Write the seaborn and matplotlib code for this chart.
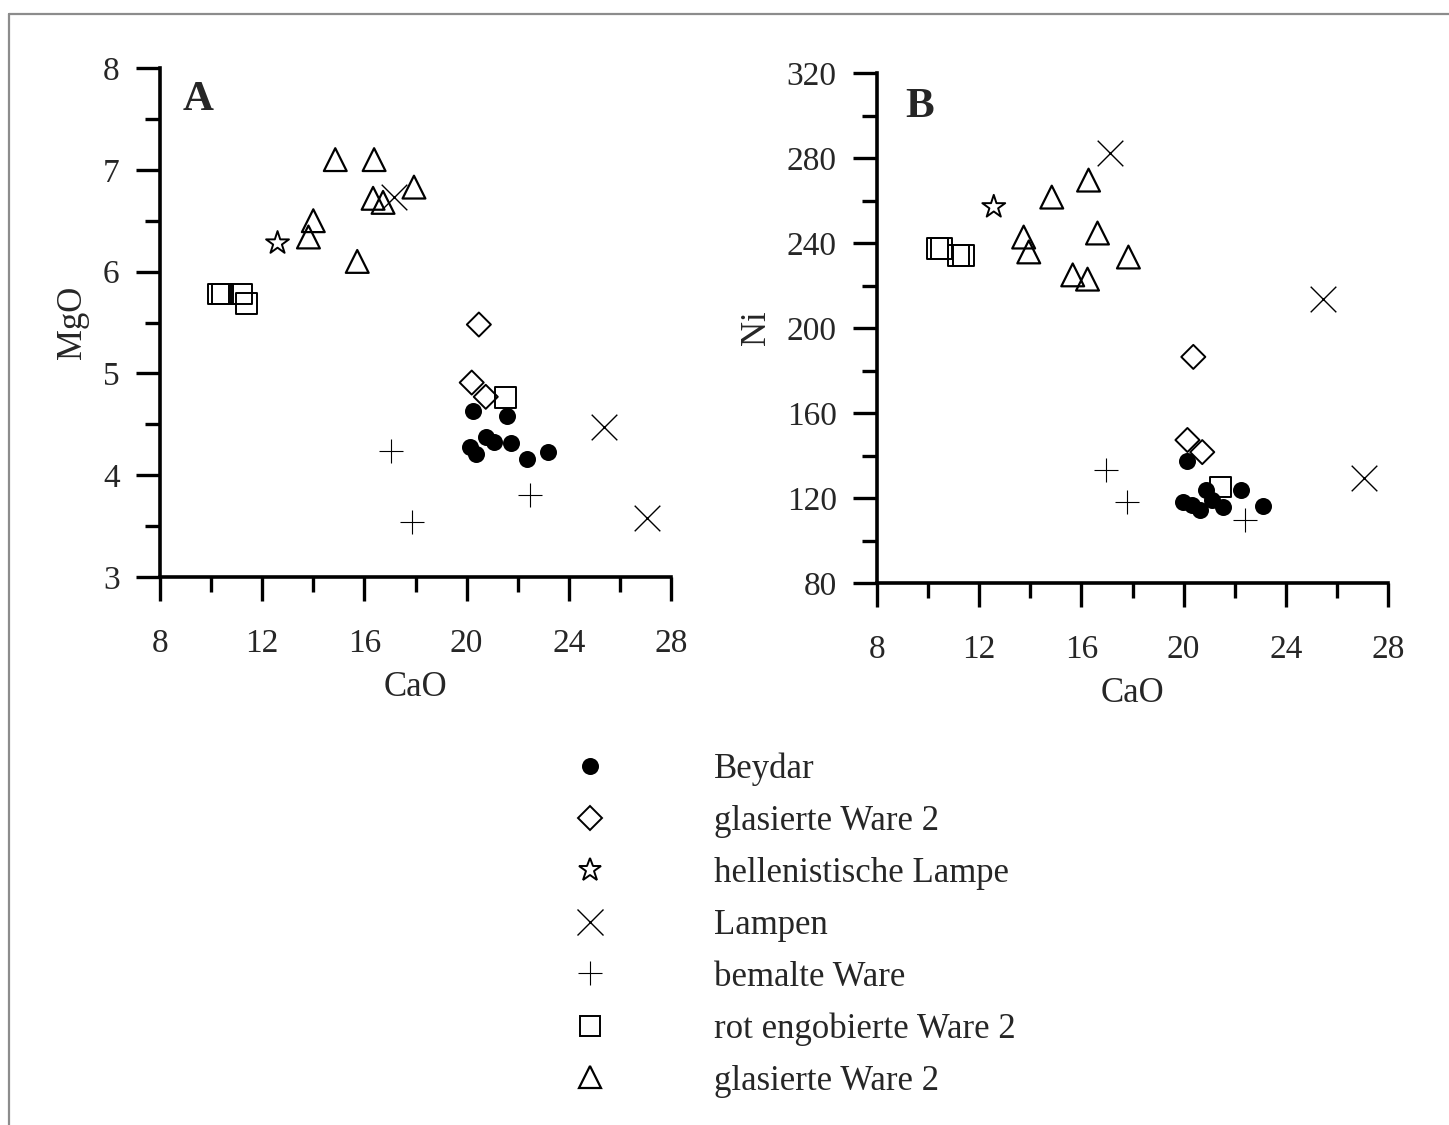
import numpy as np
import pandas as pd
import matplotlib
matplotlib.use("Agg")
import matplotlib.pyplot as plt
from matplotlib.lines import Line2D
import seaborn as sns

sns.set_theme(style="white")
plt.rcParams['font.family'] = ['Liberation Serif', 'DejaVu Serif']

# ---------------- data (panel A: CaO vs MgO) ----------------
beydar_cao_A = [20.24, 21.57, 20.12, 20.36, 20.75, 21.06, 21.72, 22.35, 23.20]
beydar_mgo_A = [4.63, 4.58, 4.28, 4.21, 4.38, 4.33, 4.32, 4.16, 4.23]
glas_d_cao_A = [20.48, 20.20, 20.75]
glas_d_mgo_A = [5.48, 4.91, 4.77]
hell_cao_A = [12.60]
hell_mgo_A = [6.28]
lamp_cao_A = [17.16, 25.39, 27.06]
lamp_mgo_A = [6.73, 4.47, 3.58]
bem_cao_A = [17.04, 17.86, 22.50]
bem_mgo_A = [4.24, 3.54, 3.81]
rot_cao_A = [10.30, 10.45, 11.20, 11.40, 21.53]
rot_mgo_A = [5.78, 5.78, 5.78, 5.69, 4.76]
glas_t_cao_A = [14.86, 16.38, 17.94, 16.34, 16.73, 14.00, 13.81, 15.72]
glas_t_mgo_A = [7.10, 7.10, 6.83, 6.72, 6.68, 6.50, 6.34, 6.10]

# ---------------- data (panel B: CaO vs Ni) ----------------
beydar_cao_B = [20.15, 19.99, 20.34, 20.66, 20.89, 21.13, 21.55, 22.26, 23.12]
beydar_ni_B = [137.4, 118.1, 116.7, 114.4, 123.8, 119.1, 115.8, 123.8, 116.2]
glas_d_cao_B = [20.38, 20.15, 20.73]
glas_d_ni_B = [186.4, 147.3, 141.6]
hell_cao_B = [12.57]
hell_ni_B = [257.0]
lamp_cao_B = [17.10, 25.46, 27.06]
lamp_ni_B = [282.4, 213.6, 129.4]
bem_cao_B = [16.98, 17.80, 22.40]
bem_ni_B = [133.2, 118.1, 109.6]
rot_cao_B = [10.38, 10.54, 11.20, 11.40, 21.44]
rot_ni_B = [237.6, 237.6, 234.0, 234.0, 125.2]
glas_t_cao_B = [16.28, 14.84, 13.74, 13.94, 16.63, 17.84, 15.66, 16.24]
glas_t_ni_B = [269.6, 261.6, 242.8, 235.8, 244.7, 233.4, 225.0, 223.0]

legend_labels = ["Beydar", "glasierte Ware 2", "hellenistische Lampe", "Lampen",
                 "bemalte Ware", "rot engobierte Ware 2", "glasierte Ware 2"]

# marker styles per group: (marker, size s, filled, linewidth)
styles = [
    ("o", 150, "filled", 0.0),
    ("D", 150, "hollow", 1.4),
    ("*", 300, "hollow", 1.4),
    ("x", 340, "line", 1.0),
    ("+", 300, "line", 0.8),
    ("s", 225, "hollow", 1.4),
    ("^", 270, "hollow", 1.6),
]

panelA = [(beydar_cao_A, beydar_mgo_A), (glas_d_cao_A, glas_d_mgo_A), (hell_cao_A, hell_mgo_A),
          (lamp_cao_A, lamp_mgo_A), (bem_cao_A, bem_mgo_A), (rot_cao_A, rot_mgo_A),
          (glas_t_cao_A, glas_t_mgo_A)]
panelB = [(beydar_cao_B, beydar_ni_B), (glas_d_cao_B, glas_d_ni_B), (hell_cao_B, hell_ni_B),
          (lamp_cao_B, lamp_ni_B), (bem_cao_B, bem_ni_B), (rot_cao_B, rot_ni_B),
          (glas_t_cao_B, glas_t_ni_B)]

W, H = 1449, 1125
fig = plt.figure(figsize=(W / 100, H / 100), dpi=100)
fig.patch.set_facecolor("white")

def fx(px):
    return px / W

def fy(py):
    return 1 - py / H

axA = fig.add_axes([fx(160), fy(577), fx(671) - fx(160), fy(68) - fy(577)])
axB = fig.add_axes([fx(877), fy(583), fx(1388) - fx(877), fy(73) - fy(583)])


def draw(ax, groups):
    for (x, y), (m, s, kind, lw) in zip(groups, styles):
        if kind == "filled":
            sns.scatterplot(x=x, y=y, ax=ax, marker=m, s=s, color="black",
                            edgecolor="black", linewidth=0, zorder=3)
        elif kind == "hollow":
            sns.scatterplot(x=x, y=y, ax=ax, marker=m, s=s, facecolors="none",
                            edgecolor="black", linewidth=lw, zorder=3)
        else:
            sns.scatterplot(x=x, y=y, ax=ax, marker=m, s=s, color="black",
                            linewidth=lw, zorder=3)


def style_axes(ax, xlim, ylim, yt_major, yt_minor, ylabel, letter, lpos):
    ax.set_xlim(*xlim)
    ax.set_ylim(*ylim)
    ax.set_facecolor("white")
    for sp in ["top", "right"]:
        ax.spines[sp].set_visible(False)
    for sp in ["left", "bottom"]:
        ax.spines[sp].set_visible(True)
        ax.spines[sp].set_linewidth(2.6)
        ax.spines[sp].set_color("black")
    ax.set_xticks(np.arange(8, 29, 4))
    ax.set_xticks(np.arange(10, 29, 4), minor=True)
    ax.set_yticks(yt_major)
    ax.set_yticks(yt_minor, minor=True)
    ax.tick_params(axis="both", which="major", direction="out", length=17, width=2.4,
                   color="black", labelsize=24, left=True, bottom=True)
    ax.tick_params(axis="x", which="major", pad=20)
    ax.tick_params(axis="y", which="major", pad=12)
    ax.tick_params(axis="both", which="minor", direction="out", length=11, width=2.4,
                   color="black", left=True, bottom=True)
    ax.set_xlabel("CaO", fontsize=25, labelpad=9)
    ax.set_ylabel(ylabel, fontsize=25, labelpad=10)
    ax.grid(False)
    ax.text(lpos[0], lpos[1], letter, transform=ax.transAxes, fontsize=31,
            fontweight="bold", ha="left", va="center")


draw(axA, panelA)
draw(axB, panelB)
style_axes(axA, (8, 28), (3, 8), np.arange(3, 9, 1), np.arange(3.5, 8, 1), "MgO", "A",
           (0.045, 0.938))
style_axes(axB, (8, 28), (80, 320), np.arange(80, 321, 40), np.arange(100, 320, 40), "Ni", "B",
           (0.056, 0.934))

# legend
handles = []
for (m, s, kind, lw) in styles:
    ms = np.sqrt(s)
    if kind == "filled":
        h = Line2D([], [], linestyle="none", marker=m, markersize=ms, markerfacecolor="black",
                   markeredgecolor="black", markeredgewidth=0)
    elif kind == "hollow":
        h = Line2D([], [], linestyle="none", marker=m, markersize=ms, markerfacecolor="none",
                   markeredgecolor="black", markeredgewidth=lw)
    else:
        h = Line2D([], [], linestyle="none", marker=m, markersize=ms, color="black",
                   markeredgewidth=lw)
    handles.append(h)

fig.legend(handles, legend_labels, loc="upper left", bbox_to_anchor=(fx(574), fy(753)),
           frameon=False, fontsize=25, handlelength=0.9, handletextpad=3.12,
           labelspacing=0.54, borderpad=0, borderaxespad=0)

# outer frame lines (top and left)
fig.add_artist(Line2D([fx(9), 1.0], [fy(14), fy(14)], color="#8c8c8c", linewidth=1.6))
fig.add_artist(Line2D([fx(9), fx(9)], [fy(14), 0.0], color="#8c8c8c", linewidth=1.6))

fig.savefig("out.png", dpi=100, facecolor="white")
